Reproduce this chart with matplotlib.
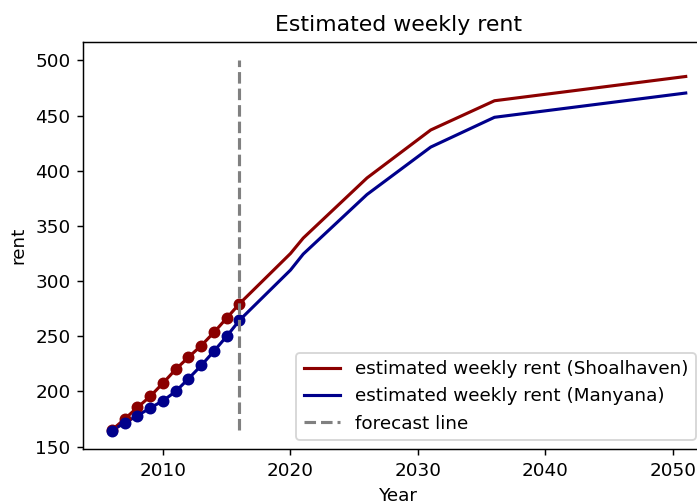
import matplotlib
matplotlib.use("Agg")
import matplotlib.pyplot as plt

# historical (annual) values
hist_years = [2006, 2007, 2008, 2009, 2010, 2011, 2012, 2013, 2014, 2015, 2016]
hist_shoal = [165, 175, 185.5, 195.5, 207.5, 220, 231, 241.5, 253.5, 266.5, 279.5]
hist_many = [164.5, 171.5, 178, 185, 191.5, 200, 211.5, 223.5, 236.5, 250, 264.5]

# forecast values
fc_years = [2020, 2021, 2026, 2031, 2036, 2051]
fc_shoal = [325, 339, 393.5, 437, 463.5, 485.5]
fc_many = [310, 324.5, 378.5, 421.5, 448.5, 470.5]

forecast_year = 2016
forecast_span = [165, 500]

years = hist_years + fc_years
shoal = hist_shoal + fc_shoal
many = hist_many + fc_many

fig = plt.figure(figsize=(697 / 132, 504 / 132), dpi=132)
ax = fig.add_axes([0.1195, 0.109, 0.9055, 0.8077])

ax.plot(years, shoal, color='#8b0000', lw=1.7, label='estimated weekly rent (Shoalhaven)')
ax.plot(years, many, color='#00008b', lw=1.7, label='estimated weekly rent (Manyana)')
ax.plot(hist_years, hist_shoal, 'o', color='#8b0000', ms=5.5)
ax.plot(hist_years, hist_many, 'o', color='#00008b', ms=5.5)
ax.plot([forecast_year, forecast_year], forecast_span, '--', color='grey', lw=1.7,
        label='forecast line')

ax.set_title('Estimated weekly rent')
ax.set_xlabel('Year')
ax.set_ylabel('rent')
ax.legend(loc='lower right', bbox_to_anchor=(0.985, 0))

fig.savefig('out.png', dpi=132)
